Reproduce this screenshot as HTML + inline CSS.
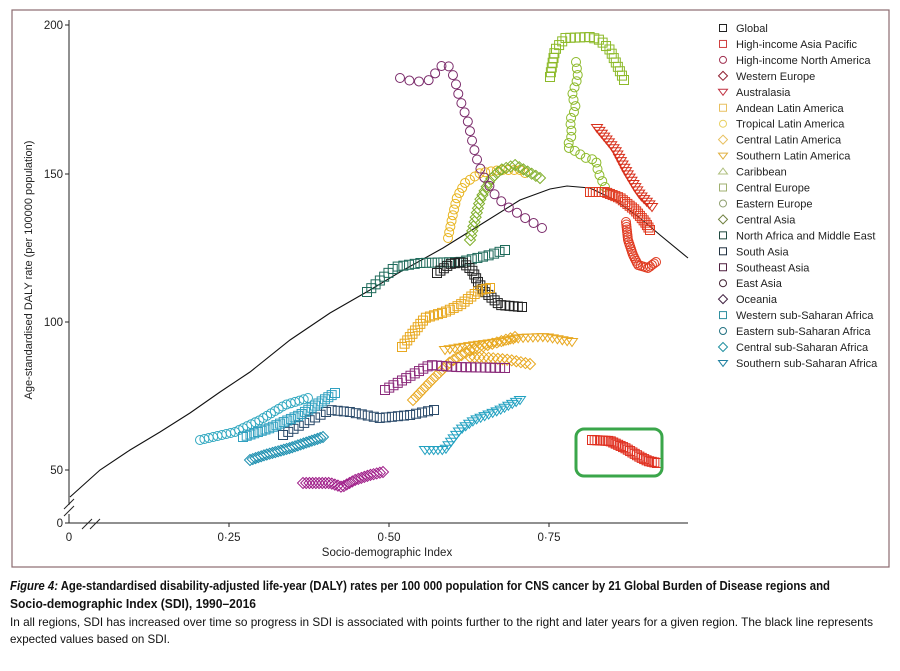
<!DOCTYPE html>
<html><head><meta charset="utf-8"><style>
body{margin:0;background:#fff;width:900px;height:671px;overflow:hidden;font-family:"Liberation Sans Narrow","Liberation Sans",sans-serif}
svg{display:block}
</style></head><body>
<svg id="s" width="900" height="671" xmlns="http://www.w3.org/2000/svg" font-family="Liberation Sans Narrow, Liberation Sans, sans-serif">
<rect x="12" y="10" width="877" height="557" fill="none" stroke="#8b6b70" stroke-width="1.2"/>
<g stroke="#222" stroke-width="1" fill="none">
<line x1="69" y1="20" x2="69" y2="505"/>
<line x1="69" y1="514" x2="69" y2="523"/>
<line x1="64" y1="509" x2="74" y2="499"/>
<line x1="64" y1="516" x2="74" y2="506"/>
<line x1="69" y1="523" x2="688" y2="523"/>
<line x1="82" y1="529" x2="92" y2="519"/>
<line x1="90" y1="529" x2="100" y2="519"/>
<line x1="65" y1="25" x2="69" y2="25"/><line x1="65" y1="174" x2="69" y2="174"/>
<line x1="65" y1="322" x2="69" y2="322"/><line x1="65" y1="470" x2="69" y2="470"/><line x1="65" y1="523" x2="69" y2="523"/>
<line x1="229" y1="523" x2="229" y2="527"/><line x1="389" y1="523" x2="389" y2="527"/><line x1="549" y1="523" x2="549" y2="527"/>
</g>
<g font-size="11.5" fill="#222" text-anchor="end">
<text x="63" y="29">200</text><text x="63" y="178">150</text><text x="63" y="326">100</text><text x="63" y="474">50</text><text x="63" y="527">0</text>
</g>
<g font-size="11.5" fill="#222" text-anchor="middle">
<text x="69" y="541">0</text><text x="229" y="541">0·25</text><text x="389" y="541">0·50</text><text x="549" y="541">0·75</text>
<text x="387" y="556">Socio-demographic Index</text>
</g>
<text transform="translate(32,270) rotate(-90)" font-size="11" fill="#222" text-anchor="middle">Age-standardised DALY rate (per 100000 population)</text>
<polyline fill="none" stroke="#111" stroke-width="1.1" points="70,497 100,470 130,450 160,432 190,413 220,392 250,372 290,340 330,313 370,290 400,272 443,248 480,225 520,200 550,189 567,186 590,188 615,200 640,218 660,235 688,258"/>
<g id="m" fill="none" stroke-width="1"></g>
<rect x="576" y="429" width="86" height="47" rx="8" fill="none" stroke="#3aa64a" stroke-width="3"/>
<g id="leg" font-size="11" fill="#222"></g>
<g fill="#111">
<text x="10" y="590" font-size="12.5" font-weight="bold" textLength="820" lengthAdjust="spacingAndGlyphs"><tspan font-style="italic">Figure 4:</tspan> Age-standardised disability-adjusted life-year (DALY) rates per 100 000 population for CNS cancer by 21 Global Burden of Disease regions and</text>
<text x="10" y="608" font-size="12.5" font-weight="bold" textLength="246" lengthAdjust="spacingAndGlyphs">Socio-demographic Index (SDI), 1990–2016</text>
<text x="10" y="626" font-size="12" textLength="863" lengthAdjust="spacingAndGlyphs">In all regions, SDI has increased over time so progress in SDI is associated with points further to the right and later years for a given region. The black line represents</text>
<text x="10" y="643" font-size="12" textLength="160" lengthAdjust="spacingAndGlyphs">expected values based on SDI.</text>
</g>
</svg>
<script>
var NS="http://www.w3.org/2000/svg";
function mk(p,type,x,y,c,sz){var e;sz=sz||4.5;
 if(type=="sq"){e=document.createElementNS(NS,"rect");e.setAttribute("x",x-sz);e.setAttribute("y",y-sz);e.setAttribute("width",2*sz);e.setAttribute("height",2*sz);}
 else if(type=="ci"){e=document.createElementNS(NS,"circle");e.setAttribute("cx",x);e.setAttribute("cy",y);e.setAttribute("r",sz);}
 else{e=document.createElementNS(NS,"polygon");var pts;
  if(type=="di")pts=[[x,y-sz-1],[x+sz+1,y],[x,y+sz+1],[x-sz-1,y]];
  else if(type=="tv")pts=[[x-sz-1,y-sz+1],[x+sz+1,y-sz+1],[x,y+sz]];
  else pts=[[x-sz-1,y+sz-1],[x+sz+1,y+sz-1],[x,y-sz]];
  e.setAttribute("points",pts.map(function(a){return a.join(",")}).join(" "));}
 e.setAttribute("stroke",c);p.appendChild(e);}
function series(type,c,pts,n){var g=document.getElementById("m");var L=[0];
 for(var i=1;i<pts.length;i++)L.push(L[i-1]+Math.hypot(pts[i][0]-pts[i-1][0],pts[i][1]-pts[i-1][1]));
 var T=L[L.length-1];
 for(var k=0;k<n;k++){var d=T*k/(n-1),j=1;while(j<pts.length-1&&L[j]<d)j++;
  var t=(d-L[j-1])/((L[j]-L[j-1])||1);
  mk(g,type,pts[j-1][0]+t*(pts[j][0]-pts[j-1][0]),pts[j-1][1]+t*(pts[j][1]-pts[j-1][1]),c);}}
var S=[
["ci","#e8b520",[[448,238],[453,214],[457,197],[465,183],[480,173],[500,170],[520,170],[525,173]],22],
["di","#7fae2a",[[470,240],[475,220],[480,200],[490,180],[500,170],[515,165],[540,178]],27],
["ci","#7a2a6a",[[400,78],[415,82],[430,80],[440,67],[446,63],[450,68],[455,80],[458,93],[462,105],[468,122],[473,145],[478,163],[484,177],[495,195],[505,205],[525,218],[542,228]],27],
["sq","#8dba2a",[[550,77],[555,50],[565,38],[590,37],[600,40],[610,50],[617,65],[624,80]],27],
["ci","#8dba2a",[[576,62],[578,77],[572,95],[576,108],[570,120],[572,135],[567,147],[575,151],[586,158],[596,160],[598,172],[605,187]],24],
["tv","#d8301c",[[597,128],[615,150],[628,175],[640,195],[652,207]],27],
["sq","#e03a20",[[590,192],[605,192],[620,198],[635,210],[645,222],[650,230]],27],
["ci","#e03a20",[[626,222],[628,240],[633,255],[638,265],[648,268],[656,262]],27],
["sq","#1e6a5a",[[367,292],[395,267],[420,263],[460,262],[490,255],[505,250]],27],
["sq","#222",[[437,273],[450,264],[462,262],[472,270],[478,282],[485,292],[500,305],[522,307]],27],
["sq","#e8a820",[[402,347],[425,318],[445,312],[460,305],[480,290],[490,288]],27],
["di","#e8a820",[[413,400],[430,382],[450,362],[470,350],[495,343],[515,337]],27],
["tv","#e8a820",[[445,350],[470,346],[500,342],[520,338],[545,337],[572,342]],27],
["di","#e8a820",[[470,357],[490,358],[510,360],[530,364]],14],
["sq","#8a2a7a",[[385,390],[410,376],[430,365],[455,367],[505,368]],27],
["sq","#2a4a6a",[[283,435],[300,425],[320,415],[330,410],[350,412],[380,418],[410,415],[434,410]],27],
["ci","#30a8c0",[[200,440],[235,432],[260,420],[285,405],[308,398]],27],
["sq","#30a0c0",[[243,437],[270,428],[300,415],[335,393]],27],
["di","#1e90b0",[[250,460],[265,455],[290,448],[323,437]],27],
["tv","#20a0c0",[[425,450],[445,450],[460,430],[475,420],[500,410],[520,400]],27],
["di","#a0208a",[[303,483],[330,483],[342,487],[355,480],[370,475],[383,472]],27],
["sq","#e03020",[[592,440],[610,441],[625,448],[640,457],[648,461],[657,463]],27]
];
S.forEach(function(s){series(s[0],s[1],s[2],s[3]);});
var LG=[["sq","#222","Global"],["sq","#d04040","High-income Asia Pacific"],["ci","#a03050","High-income North America"],["di","#902030","Western Europe"],["tv","#c03040","Australasia"],["sq","#e8c060","Andean Latin America"],["ci","#e8d060","Tropical Latin America"],["di","#e8c060","Central Latin America"],["tv","#e0b040","Southern Latin America"],["tu","#b0c080","Caribbean"],["sq","#a0b070","Central Europe"],["ci","#90a070","Eastern Europe"],["di","#708040","Central Asia"],["sq","#204a40","North Africa and Middle East"],["sq","#203040","South Asia"],["sq","#502040","Southeast Asia"],["ci","#402030","East Asia"],["di","#402040","Oceania"],["sq","#3090a0","Western sub-Saharan Africa"],["ci","#207080","Eastern sub-Saharan Africa"],["di","#2090a0","Central sub-Saharan Africa"],["tv","#2080a0","Southern sub-Saharan Africa"]];
var lg=document.getElementById("leg");
LG.forEach(function(l,i){var y=28+i*15.95;var g=document.createElementNS(NS,"g");g.setAttribute("fill","none");lg.appendChild(g);mk(g,l[0],723,y,l[1],3.5);
 var t=document.createElementNS(NS,"text");t.setAttribute("x",736);t.setAttribute("y",y+4);t.textContent=l[2];lg.appendChild(t);});
</script>
</body></html>
